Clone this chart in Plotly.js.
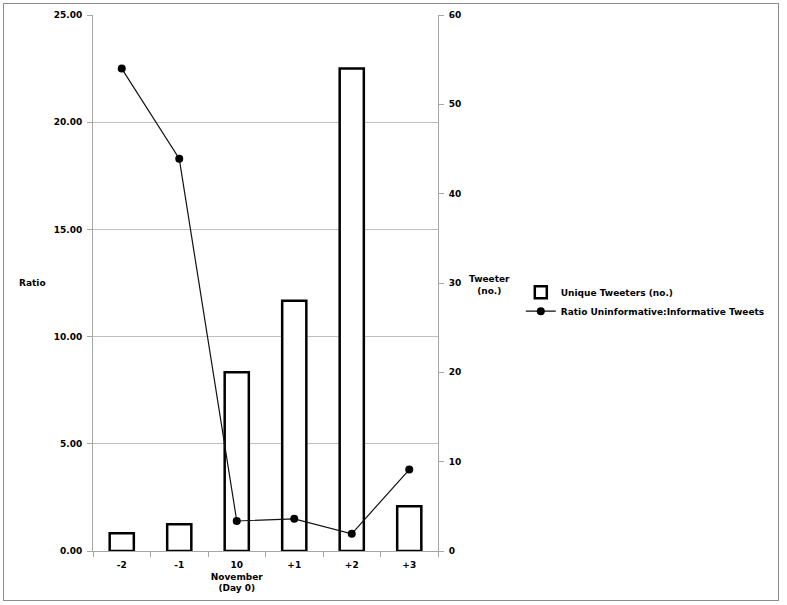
<!DOCTYPE html>
<html>
<head>
<meta charset="utf-8">
<script src="https://cdn.plot.ly/plotly-3.0.1.min.js"></script>
<style>
  body { margin: 0; background: #fff; }
  #plot { width: 787px; height: 605px; }
  #frame { position: absolute; left: 3px; top: 3px; width: 774px; height: 596px;
           border: 1.5px solid #8c8c8c; pointer-events: none; }
</style>
</head>
<body>
<div id="plot"></div>
<div id="frame"></div>
<script>
// Daten
const days = ["-2", "-1", "10", "+1", "+2", "+3"];
const dayLabels = ["-2", "-1", "10<br>November<br>(Day 0)", "+1", "+2", "+3"];
const uniqueTweeters = [2, 3, 20, 28, 54, 5];
const ratioUninf = [22.5, 18.3, 1.4, 1.5, 0.8, 3.8];
const ratioTicks = [0, 5, 10, 15, 20, 25];

const fnt = { family: "DejaVu Sans, Verdana, sans-serif", size: 9, color: "#000", weight: "bold" };

// Balken auf y (rechts), Linie auf y2 (links, overlay -> liegt oben)
const traces = [
  {
    type: "bar",
    name: "Unique Tweeters (no.)",
    x: days,
    y: uniqueTweeters,
    yaxis: "y",
    width: 0.42,
    marker: { color: "#fff", line: { color: "#000", width: 2.5 } }
  },
  {
    type: "scatter",
    mode: "lines+markers",
    name: "Ratio Uninformative:Informative Tweets",
    x: days,
    y: ratioUninf,
    yaxis: "y2",
    line: { color: "#111", width: 1.2 },
    marker: { color: "#000", size: 8 }
  }
];

const layout = {
  width: 787,
  height: 605,
  margin: { l: 93, r: 349, t: 15, b: 54 },
  paper_bgcolor: "#fff",
  plot_bgcolor: "#fff",
  font: fnt,
  xaxis: {
    type: "category",
    tickvals: days,
    ticktext: dayLabels,
    tickangle: 0,
    showline: true,
    linecolor: "#a6a6a6",
    linewidth: 1,
    ticks: "outside",
    tickson: "boundaries",
    ticklen: 5,
    tickcolor: "#a6a6a6",
    tickfont: fnt,
    ticklabelstandoff: 5,
    showgrid: false
  },
  // Tweeter-Achse rechts
  yaxis: {
    side: "right",
    range: [0, 60],
    dtick: 10,
    showline: true,
    linecolor: "#a6a6a6",
    ticks: "outside",
    ticklen: 5,
    tickcolor: "#a6a6a6",
    tickfont: fnt,
    ticklabelstandoff: 3,
    showgrid: false,
    zeroline: false
  },
  // Ratio-Achse links
  yaxis2: {
    overlaying: "y",
    side: "left",
    range: [0, 25],
    tickvals: ratioTicks,
    ticktext: ratioTicks.map(v => v.toFixed(2)),
    showline: true,
    linecolor: "#a6a6a6",
    ticks: "outside",
    ticklen: 5,
    tickcolor: "#a6a6a6",
    tickfont: fnt,
    ticklabelstandoff: 3,
    showgrid: true,
    gridcolor: "#bfbfbf",
    gridwidth: 1,
    zeroline: false
  },
  showlegend: true,
  legend: {
    x: 1.24,
    y: 0.51,
    xanchor: "left",
    yanchor: "top",
    font: fnt,
    bgcolor: "rgba(0,0,0,0)",
    tracegroupgap: 0,
    itemwidth: 30
  },
  annotations: [
    { text: "Ratio", xref: "paper", yref: "paper", x: -0.175, y: 0.5,
      showarrow: false, font: fnt, xanchor: "center", yanchor: "middle" },
    { text: "Tweeter<br>(no.)", xref: "paper", yref: "paper", x: 1.148, y: 0.497,
      showarrow: false, font: fnt, xanchor: "center", yanchor: "middle" }
  ]
};

Plotly.newPlot("plot", traces, layout, { displayModeBar: false, staticPlot: true });
</script>
</body>
</html>
